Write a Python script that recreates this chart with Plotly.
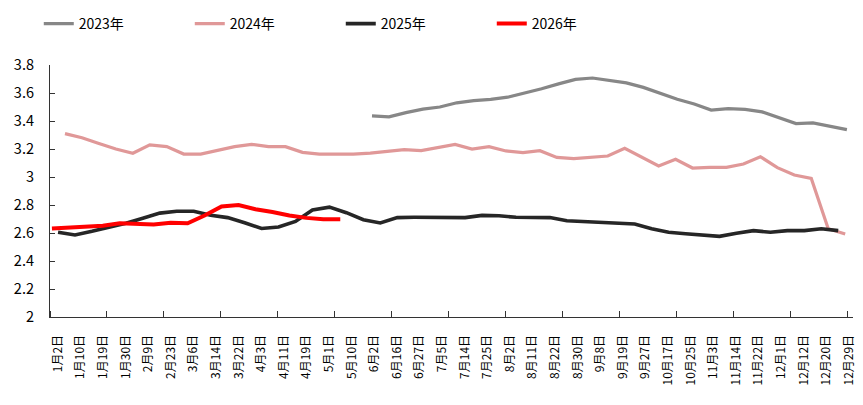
import numpy as np
import plotly.graph_objects as go

# weekly readings, x measured in weeks from the first 2024 point
dates = ["1月2日", "1月10日", "1月19日", "1月30日", "2月9日", "2月23日", "3月6日", "3月14日",
         "3月22日", "4月3日", "4月11日", "4月19日", "5月1日", "5月10日", "6月2日", "6月16日",
         "6月27日", "7月5日", "7月14日", "7月25日", "8月2日", "8月11日", "8月22日", "8月30日",
         "9月8日", "9月19日", "9月27日", "10月17日", "10月25日", "11月3日", "11月14日", "11月22日",
         "12月1日", "12月12日", "12月20日", "12月29日"]

y2023 = [3.436, 3.43, 3.46, 3.485, 3.50, 3.53, 3.545, 3.554, 3.57, 3.598, 3.63, 3.665, 3.697,
         3.707, 3.69, 3.672, 3.64, 3.595, 3.555, 3.521, 3.478, 3.488, 3.483, 3.465, 3.423, 3.382,
         3.387, 3.365, 3.338]
y2024 = [3.31, 3.28, 3.24, 3.20, 3.17, 3.23, 3.217, 3.164, 3.164, 3.19, 3.217, 3.233, 3.217,
         3.217, 3.176, 3.164, 3.164, 3.164, 3.17, 3.18, 3.195, 3.188, 3.21, 3.233, 3.2, 3.217,
         3.186, 3.174, 3.188, 3.14, 3.131, 3.141, 3.15, 3.205, 3.144, 3.079, 3.126, 3.064, 3.069,
         3.069, 3.093, 3.145, 3.067, 3.014, 2.99, 2.63, 2.593]
y2025 = [2.605, 2.586, 2.612, 2.64, 2.67, 2.705, 2.742, 2.755, 2.755, 2.727, 2.71, 2.673, 2.632,
         2.643, 2.683, 2.765, 2.785, 2.745, 2.695, 2.672, 2.71, 2.712, 2.713, 2.712, 2.71, 2.726,
         2.723, 2.712, 2.71, 2.71, 2.688, 2.683, 2.676, 2.674, 2.664, 2.63, 2.605, 2.595, 2.585,
         2.576, 2.598, 2.617, 2.605, 2.617, 2.617, 2.63, 2.617]
y2026 = [2.633, 2.637, 2.648, 2.652, 2.67, 2.665, 2.66, 2.674, 2.669, 2.725, 2.79, 2.80, 2.77,
         2.75, 2.725, 2.708, 2.698, 2.698]

# first week of each series on the shared week axis
start = {"2023年": 18.1, "2024年": 0.0, "2025年": -0.41, "2026年": -0.77}

series = [
    ("2023年", y2023, "#878787", 3.2),
    ("2024年", y2024, "#e09898", 3.2),
    ("2025年", y2025, "#262626", 3.6),
    ("2026年", y2026, "#ff0000", 4.0),
]

fig = go.Figure()
for name, ys, color, w in series:
    xs = start[name] + np.arange(len(ys))
    fig.add_trace(go.Scatter(x=xs, y=ys, mode="lines", name=name,
                             line=dict(color=color, width=w)))

label_pos = -0.413 + 1.3325 * np.arange(len(dates))

# page body adds an 8px offset, so the figure is a little smaller than the window
fig.update_layout(
    width=855, height=397,
    margin=dict(l=42, r=10, t=57, b=88, autoexpand=False),
    plot_bgcolor="white", paper_bgcolor="white",
    font=dict(family="Noto Sans CJK SC", color="black"),
    showlegend=True,
    legend=dict(orientation="h", xref="container", x=0.036, xanchor="left",
                yref="container", y=1.0, yanchor="top",
                font=dict(size=14), entrywidth=106, entrywidthmode="pixels",
                bgcolor="rgba(0,0,0,0)"),
    xaxis=dict(range=[-0.884, 46.46], tickmode="array", tickvals=label_pos, ticktext=dates,
               tickangle=-90, ticks="", ticklabelstandoff=12, tickfont=dict(size=12),
               automargin=False,
               showline=True, linecolor="#333333", linewidth=1.2, showgrid=False, zeroline=False,
               minor=dict(tickmode="linear", tick0=-0.884, dtick=3.3567, ticks="inside",
                          ticklen=6, tickcolor="#333333", tickwidth=1, showgrid=False)),
    yaxis=dict(range=[2, 3.8], tickmode="array",
               tickvals=[2, 2.2, 2.4, 2.6, 2.8, 3, 3.2, 3.4, 3.6, 3.8],
               ticktext=["2", "2.2", "2.4", "2.6", "2.8", "3", "3.2", "3.4", "3.6", "3.8"],
               ticks="inside", ticklen=5, tickcolor="#333333", ticklabelstandoff=12,
               tickfont=dict(size=14.5), showline=True, linecolor="#333333", linewidth=1.2,
               showgrid=False, zeroline=False, automargin=False),
)

fig.write_html("out.html")
